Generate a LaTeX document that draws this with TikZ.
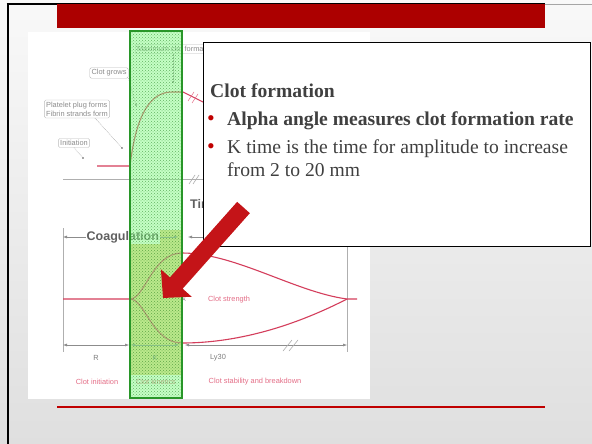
\documentclass[tikz,border=0pt]{standalone}
\usepackage{fontspec}
\setmainfont{Liberation Serif}
\newfontfamily\figfont{Liberation Sans}
\usepackage{xcolor}
\usepackage{tikz}
\usetikzlibrary{arrows.meta, patterns}
\definecolor{barred}{RGB}{172, 0, 0}
\definecolor{rulered}{RGB}{192, 0, 0}
\definecolor{textgray}{RGB}{64, 64, 64}
\definecolor{curvered}{RGB}{212, 62, 92}
\definecolor{notered}{RGB}{228, 110, 135}
\definecolor{figgray}{RGB}{140, 140, 140}
\definecolor{hilite}{RGB}{40, 150, 40}
\definecolor{bandtan}{RGB}{236, 212, 140}
\definecolor{arrowred}{RGB}{196, 20, 24}
\tikzset{
    curve/.style   ={draw=curvered, line width=1.1pt},
    axis/.style    ={draw=figgray!70, line width=0.6pt},
    dim/.style     ={{Latex[length=4pt,width=3pt]}-{Latex[length=4pt,width=3pt]},
                     draw=figgray, line width=0.5pt},
    halfdim/.style ={{Latex[length=4pt,width=3pt]}-, draw=figgray, line width=0.5pt},
    callout/.style ={draw=figgray!60, rounded corners=1.5pt, fill=white,
                     font=\figfont\fontsize{7.4}{9}\selectfont, text=figgray,
                     inner sep=1.8pt, align=left},
    leader/.style  ={draw=figgray, densely dotted, line width=0.5pt},
    ldot/.style    ={fill=figgray!60!black},
    figlbl/.style  ={font=\figfont\fontsize{7.4}{8}\selectfont, text=figgray!90!black, inner sep=1pt},
    phaselbl/.style={font=\figfont\fontsize{7.4}{8}\selectfont, text=notered, inner sep=1pt},
    bold/.style    ={font=\figfont\bfseries\fontsize{12.5}{14}\selectfont, text=gray!75!black, inner sep=1pt},
    point/.style   ={font=\fontsize{19.6}{23}\selectfont, text=textgray, anchor=base west, inner sep=0pt},
    bul/.style     ={font=\fontsize{22}{22}\selectfont, text=rulered, anchor=base west, inner sep=0pt}
}
\begin{document}
\begin{tikzpicture}[x=1pt, y=-1pt]
  \useasboundingbox (0,0) rectangle (592,444);
  % slide
  \shade[top color=gray!5, bottom color=gray!25] (0,0) rectangle (592,444);
  \fill[black] (6.5,3) rectangle (9,444);
  \draw[black, line width=2pt] (6.5,4) -- (545,4);
  \draw[gray!70, line width=0.8pt] (545,4) -- (592,4);
  \fill[barred] (57,4) rectangle (545,28);
  \draw[rulered, line width=2pt] (57,407) -- (545,407);

  % pasted figure
  \fill[white] (28,32) rectangle (370,399);
  \fill[bandtan] (130,230) rectangle (182,375);

  % upper trace
  \draw[axis] (63,179) -- (205,179);
  \draw[axis] (189,184) -- (195,175) (193,184) -- (199,175);
  \draw[curve] (97,166) -- (130,166) .. controls (136,115) and (150,92) .. (172,92)
        -- (183,92) -- (205,103);
  \draw[notered, line width=0.5pt] (188,101) -- (194,92) (192,103) -- (198,94);

  \node[callout] (grows) at (109,73) {Clot grows};
  \node[callout] (plug)  at (77,109) {Platelet plug forms\\Fibrin strands form};
  \node[callout] (init)  at (74,143) {Initiation};
  \node[callout, anchor=west] (maxform) at (135,49) {Maximum clot formation};
  \coordinate (grows-end) at (136,105);
  \coordinate (plug-end)  at (122,148);
  \coordinate (init-end)  at (83,158);
  \coordinate (max-end)   at (173,82);
  \draw[leader] (grows.south east) -- (grows-end);
  \draw[leader] ([xshift=18pt]plug.south) -- (plug-end);
  \draw[leader] (init.south) -- (init-end);
  \draw[leader] (maxform.south -| max-end) -- (max-end);
  \foreach \p in {grows-end, plug-end, init-end, max-end}
    \fill[ldot] (\p) circle (0.9);
  \node[bold, anchor=base west] (time) at (189,208) {Time};

  % lower trace
  \draw[axis] (63,228) -- (63,352);
  \draw[axis] (347,228) -- (347,352);
  \coordinate (coagL) at (63,237);
  \coordinate (coagR) at (178,237);
  \coordinate (lysL)  at (188,237);
  \coordinate (lysR)  at (205,237);
  \draw[dim] (coagL) -- node[bold, fill=white, pos=0.52] (coag) {Coagulation} (coagR);
  \draw[halfdim] (lysL) -- (lysR);

  \draw[curve] (63,299) -- (130,299) .. controls (145,299) and (152,253) .. (182,253)
        .. controls (235,253) and (295,292) .. (347,299) -- (357,299);
  \draw[curve] (130,299) .. controls (145,299) and (152,343) .. (182,343)
        .. controls (250,343) and (310,318) .. (347,299);
  \node[phaselbl] (strength) at (229,300) {Clot strength};
  \node[figlbl, font=\figfont\fontsize{5}{6}\selectfont] (amp) at (184,300) {A};

  \coordinate (rA) at (63,345);
  \coordinate (rB) at (129,345);
  \coordinate (kA) at (131,345);
  \coordinate (kB) at (179,345);
  \coordinate (lyA) at (185,345);
  \coordinate (lyB) at (347,345);
  \draw[dim] (rA) -- (rB);
  \draw[dim] (kA) -- (kB);
  \draw[dim] (lyA) -- (lyB);
  \draw[axis] (283,351) -- (292,340) (289,351) -- (298,340);

  \node[figlbl] (rlbl)  at (96,358)  {R};
  \node[figlbl] (klbl)  at (155,358) {K};
  \node[figlbl] (lylbl) at (218,358) {Ly30};
  \node[phaselbl] (initlbl) at (97,382)  {Clot initiation};
  \node[phaselbl] (kinlbl)  at (156,382) {Clot kinetics};
  \node[phaselbl] (stablbl) at (255,382) {Clot stability and breakdown};

  % highlighted band
  \fill[green!45!white, fill opacity=0.5] (130,31) rectangle (182,398);
  \fill[pattern=crosshatch dots, pattern color=green!40!black, fill opacity=0.5]
        (130,31) rectangle (182,398);
  \draw[hilite, line width=1.3pt] (130,31) rectangle (182,398);

  % text box
  \node[draw=black, line width=1pt, fill=white, anchor=north west, inner sep=0pt,
        minimum width=387pt, minimum height=204pt] (textbox) at (203,42) {};
  \node[point, font=\fontsize{19.6}{23}\selectfont\bfseries] (title) at (210,97) {Clot formation};
  \node[bul] (dot1) at (207,125) {\textbullet};
  \node[point, font=\fontsize{19.6}{23}\selectfont\bfseries] (alpha) at (227,125)
        {Alpha angle measures clot formation rate};
  \node[bul] (dot2) at (207,153) {\textbullet};
  \node[point] (ktime) at (227,153) {K time is the time for amplitude to increase};
  \node[point] (ktime2) at (227,176) {from 2 to 20 mm};

  % pointer
  \coordinate (arrowtail) at (243.5,207.5);
  \coordinate (arrowtip)  at (163,298);
  \draw[line width=17pt, draw=arrowred, -{Triangle[length=20pt, width=40pt]}]
        (arrowtail) -- (arrowtip);
\end{tikzpicture}
\end{document}
